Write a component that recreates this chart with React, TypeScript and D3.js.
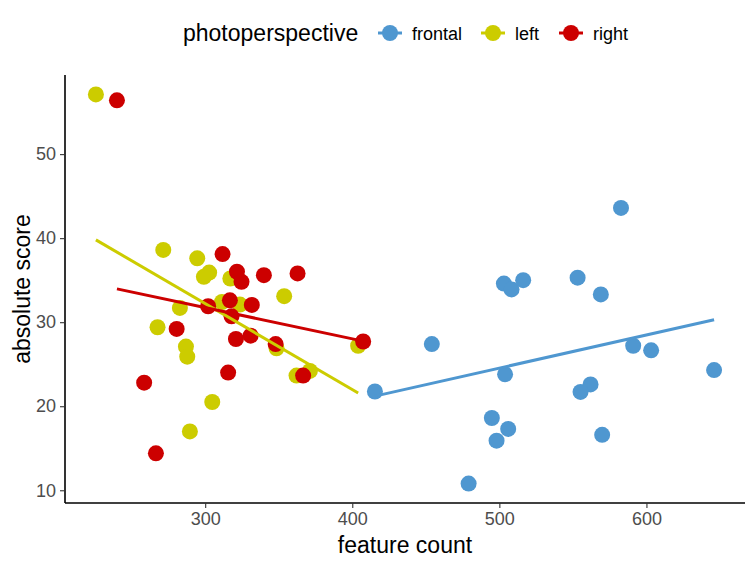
import React, { useEffect, useRef } from 'react';
import * as d3 from 'd3';

// feature count / absolute score per photo perspective
const groups = ['frontal', 'left', 'right'];

const frontalX = [415.4, 582.7, 503.1, 508.3, 516.2, 553.2, 569.0, 454.1, 591.0, 603.2, 646.0, 503.9, 562.0, 555.2, 494.9, 506.0, 498.1, 569.9, 479.1];
const frontalY = [21.75, 43.6, 34.6, 33.9, 35.0, 35.3, 33.3, 27.4, 27.2, 26.65, 24.3, 23.8, 22.6, 21.7, 18.6, 17.3, 15.9, 16.6, 10.8];

const leftX = [225.7, 271.5, 294.6, 302.7, 299.1, 317.1, 282.8, 311.4, 323.6, 353.7, 267.6, 286.9, 287.8, 404.0, 348.5, 362.1, 371.2, 304.8, 289.6];
const leftY = [57.1, 38.6, 37.6, 35.9, 35.4, 35.2, 31.7, 32.4, 32.1, 33.1, 29.4, 27.1, 25.9, 27.2, 26.9, 23.65, 24.2, 20.5, 17.0];

const rightX = [240.0, 258.5, 266.5, 280.6, 302.0, 311.8, 315.6, 316.8, 317.9, 320.9, 321.6, 324.7, 330.9, 331.7, 339.9, 347.9, 362.8, 366.6, 407.4];
const rightY = [56.4, 22.8, 14.4, 29.2, 31.9, 38.1, 24.0, 32.6, 30.7, 28.0, 36.0, 34.8, 28.4, 32.05, 35.6, 27.4, 35.8, 23.65, 27.7];

const xTicks = [300, 400, 500, 600];
const yTicks = [10, 20, 30, 40, 50];

const colors: Record<string, string> = { frontal: '#4F97D0', left: '#CCCC00', right: '#CC0000' };

const FONT = '"Liberation Sans", Arial, Helvetica, sans-serif';

type Pt = { x: number; y: number; g: string };

const App = () => {
  const svgRef = useRef<SVGSVGElement>(null);

  useEffect(() => {
    const svg = d3.select(svgRef.current);
    svg.selectAll('*').remove();

    const W = 755, H = 566;
    const margin = { top: 75, right: 10, bottom: 63, left: 65 };
    const width = W - margin.left - margin.right;
    const height = H - margin.top - margin.bottom;

    const series: Record<string, Pt[]> = {
      frontal: frontalX.map((x, i) => ({ x, y: frontalY[i], g: 'frontal' })),
      left: leftX.map((x, i) => ({ x, y: leftY[i], g: 'left' })),
      right: rightX.map((x, i) => ({ x, y: rightY[i], g: 'right' })),
    };
    const all = groups.flatMap(g => series[g]);

    // ggplot-style 5% expansion
    const pad = (e: [number, number]) => {
      const r = e[1] - e[0];
      return [e[0] - r * 0.05, e[1] + r * 0.05];
    };
    const xScale = d3.scaleLinear()
      .domain(pad(d3.extent(all, d => d.x) as [number, number]))
      .range([0, width]);
    const yScale = d3.scaleLinear()
      .domain(pad(d3.extent(all, d => d.y) as [number, number]))
      .range([height, 0]);

    const g = svg.append('g').attr('transform', `translate(${margin.left},${margin.top})`);

    // points
    groups.forEach(grp => {
      g.selectAll(`.dot-${grp}`)
        .data(series[grp])
        .enter().append('circle')
        .attr('cx', d => xScale(d.x))
        .attr('cy', d => yScale(d.y))
        .attr('r', 8)
        .attr('fill', colors[grp]);
    });

    // linear fits
    groups.forEach(grp => {
      const pts = series[grp];
      const mx = d3.mean(pts, d => d.x)!;
      const my = d3.mean(pts, d => d.y)!;
      const sxy = d3.sum(pts, d => (d.x - mx) * (d.y - my));
      const sxx = d3.sum(pts, d => (d.x - mx) ** 2);
      const b = sxy / sxx;
      const a = my - b * mx;
      const [x0, x1] = d3.extent(pts, d => d.x) as [number, number];
      const line = d3.line<number>()
        .x(x => xScale(x))
        .y(x => yScale(a + b * x));
      g.append('path')
        .datum([x0, x1])
        .attr('fill', 'none')
        .attr('stroke', colors[grp])
        .attr('stroke-width', 3)
        .attr('d', line);
    });

    // axes
    const xAxis = g.append('g')
      .attr('transform', `translate(0,${height})`)
      .call(d3.axisBottom(xScale).tickValues(xTicks).tickSize(5).tickPadding(4).tickFormat(d3.format('d')));
    const yAxis = g.append('g')
      .call(d3.axisLeft(yScale).tickValues(yTicks).tickSize(5).tickPadding(4).tickFormat(d3.format('d')));

    [xAxis, yAxis].forEach(ax => {
      ax.select('.domain').attr('stroke', '#000').attr('stroke-width', 1.6);
      ax.selectAll('.tick line').attr('stroke', '#333').attr('stroke-width', 1.1);
      ax.selectAll('.tick text')
        .attr('fill', '#4D4D4D')
        .style('font-family', FONT)
        .style('font-size', '18px');
    });
    xAxis.select('.domain').attr('d', `M0,0H${width}`);
    yAxis.select('.domain').attr('d', `M0,0V${height}`);

    // axis titles
    svg.append('text')
      .attr('x', margin.left + width / 2)
      .attr('y', 553)
      .attr('text-anchor', 'middle')
      .style('font-family', FONT)
      .style('font-size', '23px')
      .attr('fill', '#000')
      .text('feature count');
    svg.append('text')
      .attr('transform', `translate(30,${margin.top + height / 2}) rotate(-90)`)
      .attr('text-anchor', 'middle')
      .style('font-family', FONT)
      .style('font-size', '23px')
      .attr('fill', '#000')
      .text('absolute score');

    // legend
    const legend = svg.append('g').attr('transform', 'translate(0,33)');
    legend.append('text')
      .attr('x', 183)
      .attr('y', 8)
      .style('font-family', FONT)
      .style('font-size', '23px')
      .attr('fill', '#000')
      .text('photoperspective');
    const keyX = [390, 493, 571];
    groups.forEach((grp, i) => {
      const k = legend.append('g').attr('transform', `translate(${keyX[i]},0)`);
      k.append('line')
        .attr('x1', -12).attr('x2', 12)
        .attr('stroke', colors[grp])
        .attr('stroke-width', 3);
      k.append('circle').attr('r', 8).attr('fill', colors[grp]);
      legend.append('text')
        .attr('x', keyX[i] + 22)
        .attr('y', 6.5)
        .style('font-family', FONT)
        .style('font-size', '18px')
        .attr('fill', '#000')
        .text(grp);
    });
  }, []);

  return (
    <svg
      ref={svgRef}
      width={755}
      height={566}
      style={{ position: 'absolute', left: 0, top: 0, background: '#fff' }}
    />
  );
};

export default App;
